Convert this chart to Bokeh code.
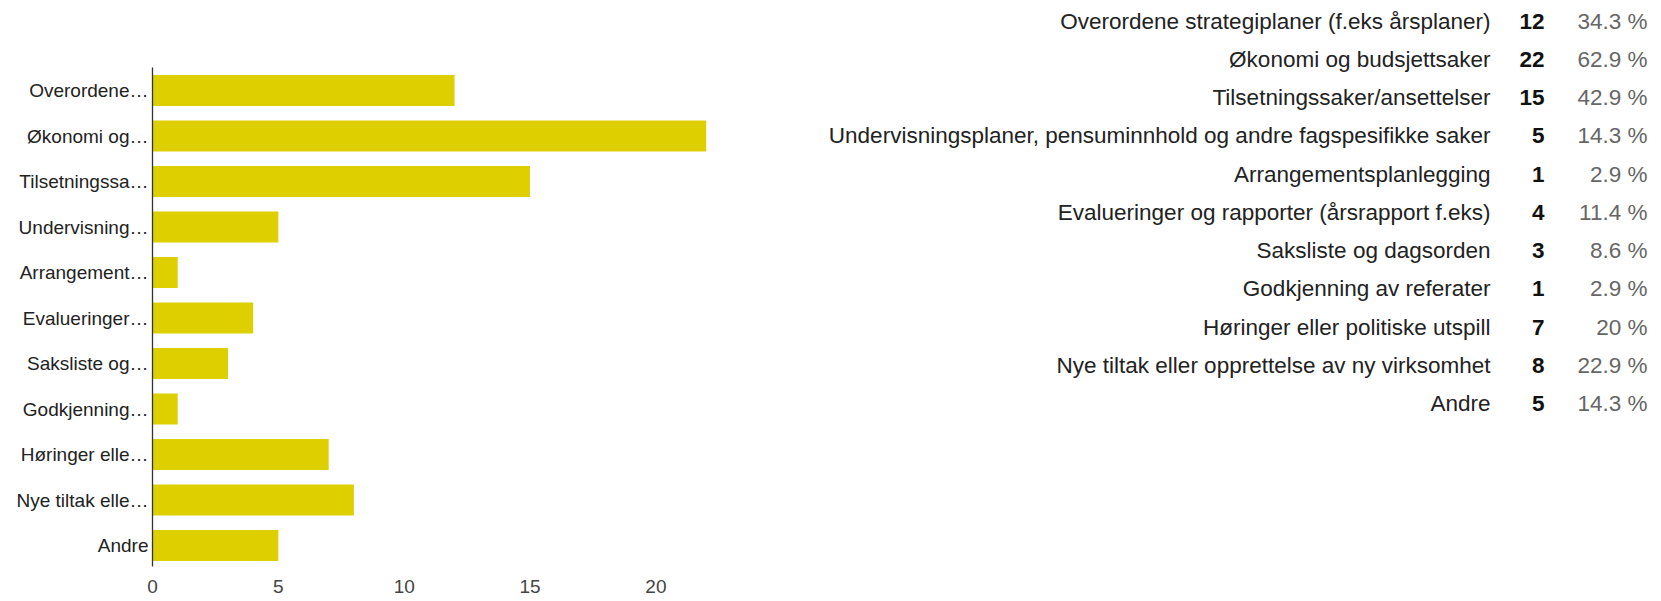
from bokeh.plotting import figure
from bokeh.models import Range1d, ColumnDataSource, FixedTicker
from bokeh.core.properties import value
from bokeh.embed import file_html
from bokeh.resources import INLINE

# ---- data ----
categories = [
    "Overordene strategiplaner (f.eks årsplaner)",
    "Økonomi og budsjettsaker",
    "Tilsetningssaker/ansettelser",
    "Undervisningsplaner, pensuminnhold og andre fagspesifikke saker",
    "Arrangementsplanlegging",
    "Evalueringer og rapporter (årsrapport f.eks)",
    "Saksliste og dagsorden",
    "Godkjenning av referater",
    "Høringer eller politiske utspill",
    "Nye tiltak eller opprettelse av ny virksomhet",
    "Andre",
]
short_labels = [
    "Overordene…",
    "Økonomi og…",
    "Tilsetningssa…",
    "Undervisning…",
    "Arrangement…",
    "Evalueringer…",
    "Saksliste og…",
    "Godkjenning…",
    "Høringer elle…",
    "Nye tiltak elle…",
    "Andre",
]
counts = [12, 22, 15, 5, 1, 4, 3, 1, 7, 8, 5]
percents = ["34.3 %", "62.9 %", "42.9 %", "14.3 %", "2.9 %", "11.4 %",
            "8.6 %", "2.9 %", "20 %", "22.9 %", "14.3 %"]
x_ticks = [0, 5, 10, 15, 20]

FONT = "Liberation Sans"
BAR_COLOR = "#DDCF00"

# ---- layout constants (pixels) ----
FRAME_LEFT = 152
FRAME_W = 1661 - FRAME_LEFT
FRAME_H = 566
PX_PER_UNIT = 25.17          # horizontal scale of the bar chart
BAND = 45.5                  # bar band height
BAND0_CENTER = 90.0          # centre of first bar from the top
ROW_H = 38.25                # table row spacing
ROW0 = 20.7                  # first table row centre from the top

rows = list(range(len(categories)))

bar_top = -BAND0_CENTER / BAND
tab_top = -ROW0 / ROW_H

p = figure(
    frame_width=FRAME_W, frame_height=FRAME_H,
    x_range=Range1d(0, FRAME_W / PX_PER_UNIT),
    y_range=Range1d(bar_top + FRAME_H / BAND, bar_top),
    output_backend="svg", toolbar_location=None,
    min_border_left=FRAME_LEFT, min_border_top=0, min_border_bottom=0, min_border_right=0,
)
p.extra_x_ranges = {"table": Range1d(FRAME_LEFT, FRAME_LEFT + FRAME_W)}
p.extra_y_ranges = {"table": Range1d(tab_top + FRAME_H / ROW_H, tab_top)}

src = ColumnDataSource(dict(y=rows, x=counts))
p.hbar(y="y", right="x", left=0, height=0.68, source=src,
       fill_color=BAR_COLOR, line_color=None)

p.outline_line_color = None
p.grid.visible = False

yax = p.yaxis[0]
yax.ticker = FixedTicker(ticks=rows)
yax.major_label_overrides = {i: s for i, s in zip(rows, short_labels)}
yax.bounds = (-0.5, len(rows) - 0.5)
yax.axis_line_color = "#333333"
yax.axis_line_width = 1.3
yax.major_tick_line_color = None
yax.minor_tick_line_color = None
yax.major_tick_out = 0
yax.major_label_standoff = 4
yax.major_label_text_font = FONT
yax.major_label_text_font_size = "19px"
yax.major_label_text_color = "#222222"

xax = p.xaxis[0]
xax.ticker = FixedTicker(ticks=x_ticks)
xax.axis_line_color = None
xax.major_tick_line_color = None
xax.minor_tick_line_color = None
xax.major_tick_out = 0
xax.major_label_standoff = 13
xax.major_label_text_font = FONT
xax.major_label_text_font_size = "19px"
xax.major_label_text_color = "#444444"

# ---- table on the right ----
LABEL_X, COUNT_X, PCT_X = 1490, 1544, 1647
tsrc = ColumnDataSource(dict(
    row=rows, cat=categories, cnt=[str(c) for c in counts], pct=percents,
    lx=[LABEL_X] * len(rows), cx=[COUNT_X] * len(rows), px=[PCT_X] * len(rows),
))
common = dict(source=tsrc, text_align="right", text_baseline="middle",
              text_font=value(FONT), text_font_size="22.5px",
              x_range_name="table", y_range_name="table")
p.text(x="lx", y="row", text="cat", text_color="#222222", **common)
p.text(x="cx", y="row", text="cnt", text_color="#111111",
       text_font_style="bold", **common)
p.text(x="px", y="row", text="pct", text_color="#666666", **common)

open("out.html", "w").write(file_html(p, INLINE))
